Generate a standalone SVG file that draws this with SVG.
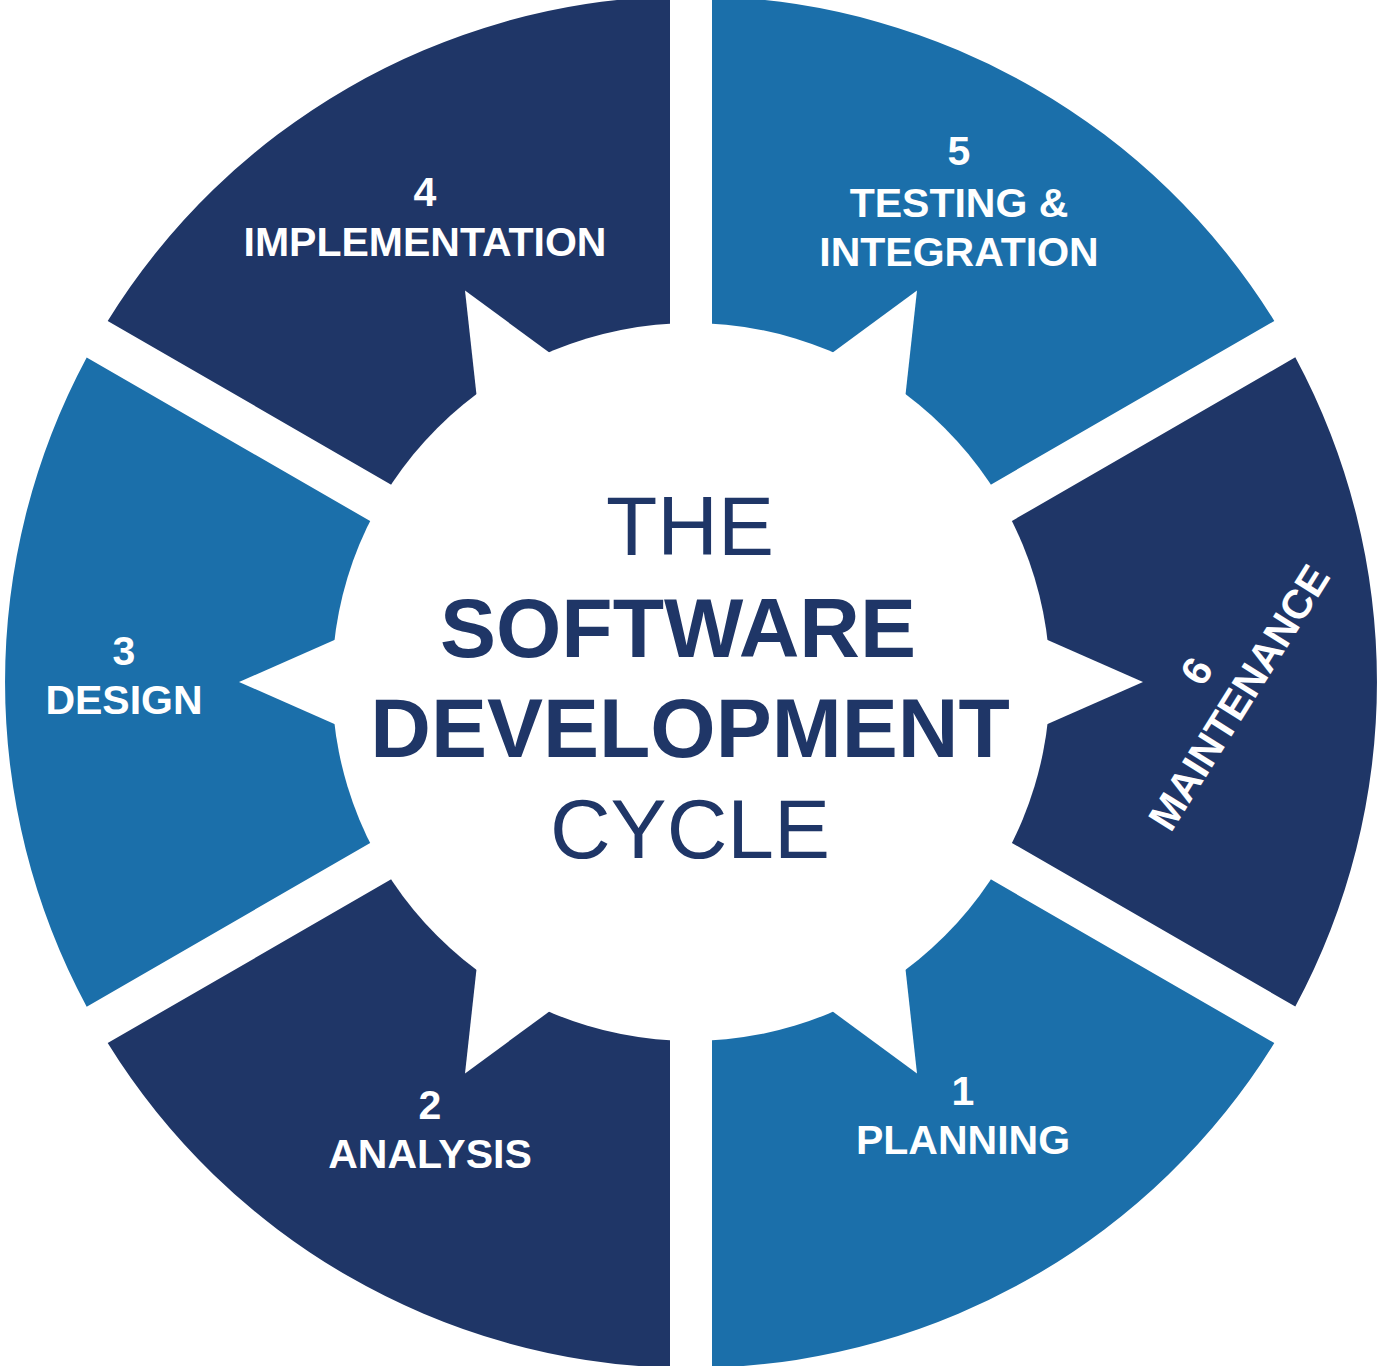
<svg xmlns="http://www.w3.org/2000/svg" xmlns:xlink="http://www.w3.org/1999/xlink" width="1380" height="1366" viewBox="0 0 1380 1366">
  <style>
    .dark { fill: #1f3667; }
    .light { fill: #1b6faa; }
    .lbl { font-family: "Liberation Sans", Arial, sans-serif; font-weight: bold; font-size: 41px; fill: #ffffff; text-anchor: middle; }
    .title { font-family: "Liberation Sans", Arial, sans-serif; font-size: 84px; fill: #1f3667; text-anchor: middle; }
    .title.b { font-weight: bold; }
  </style>
  <defs>
    <polygon id="tip" points="452,0 355.48,-42.39 355.48,42.39"/>
  </defs>
  <rect width="1380" height="1366" fill="#ffffff"/>

  <g id="seg5-testing">
    <path class="light" transform="translate(691,682)" d="M274.70,-182.86 L583.30,-361.03 A686,686 0 0 0 21,-685.68 L21,-329.33 A330,330 0 0 1 274.70,-182.86 Z"/>
    <text class="lbl" x="959" y="165">5</text>
    <text class="lbl" x="959" y="217">TESTING &amp;</text>
    <text class="lbl" x="959" y="266">INTEGRATION</text>
  </g>

  <g id="seg6-maintenance">
    <path class="dark" transform="translate(691,682)" d="M295.71,146.46 L604.30,324.54 A686,686 0 0 0 604.30,-324.65 L295.70,-146.48 A330,330 0 0 1 295.71,146.46 Z"/>
    <g transform="translate(1251,705) rotate(-58)">
      <text class="lbl" x="0" y="-50">6</text>
      <text class="lbl" x="0" y="0">MAINTENANCE</text>
    </g>
  </g>

  <g id="seg1-planning">
    <path class="light" transform="translate(691,682)" d="M21,329.33 L21,685.68 A686,686 0 0 0 583.30,361.03 L274.70,182.86 A330,330 0 0 1 21,329.33 Z"/>
    <text class="lbl" x="963" y="1105">1</text>
    <text class="lbl" x="963" y="1154">PLANNING</text>
  </g>

  <g id="seg2-analysis">
    <path class="dark" transform="translate(691,682)" d="M-274.70,182.86 L-583.30,361.03 A686,686 0 0 0 -21,685.68 L-21,329.33 A330,330 0 0 1 -274.70,182.86 Z"/>
    <text class="lbl" x="430" y="1119">2</text>
    <text class="lbl" x="430" y="1168">ANALYSIS</text>
  </g>

  <g id="seg3-design">
    <path class="light" transform="translate(691,682)" d="M-295.71,-146.46 L-604.30,-324.54 A686,686 0 0 0 -604.30,324.65 L-295.70,146.48 A330,330 0 0 1 -295.71,-146.46 Z"/>
    <text class="lbl" x="124" y="665">3</text>
    <text class="lbl" x="124" y="714">DESIGN</text>
  </g>

  <g id="seg4-implementation">
    <path class="dark" transform="translate(691,682)" d="M-21,-329.33 L-21,-685.68 A686,686 0 0 0 -583.30,-361.03 L-274.70,-182.86 A330,330 0 0 1 -21,-329.33 Z"/>
    <text class="lbl" x="425" y="206">4</text>
    <text class="lbl" x="425" y="256">IMPLEMENTATION</text>
  </g>

  <g id="center-hub">
    <g transform="translate(691,682)" fill="#ffffff">
      <circle cx="0" cy="0" r="359"/>
      <use xlink:href="#tip"/>
      <use xlink:href="#tip" transform="rotate(60)"/>
      <use xlink:href="#tip" transform="rotate(120)"/>
      <use xlink:href="#tip" transform="rotate(180)"/>
      <use xlink:href="#tip" transform="rotate(240)"/>
      <use xlink:href="#tip" transform="rotate(300)"/>
    </g>
    <text class="title" x="690" y="555">THE</text>
    <text class="title b" x="678" y="657">SOFTWARE</text>
    <text class="title b" x="690" y="757">DEVELOPMENT</text>
    <text class="title" x="690" y="858">CYCLE</text>
  </g>
</svg>
